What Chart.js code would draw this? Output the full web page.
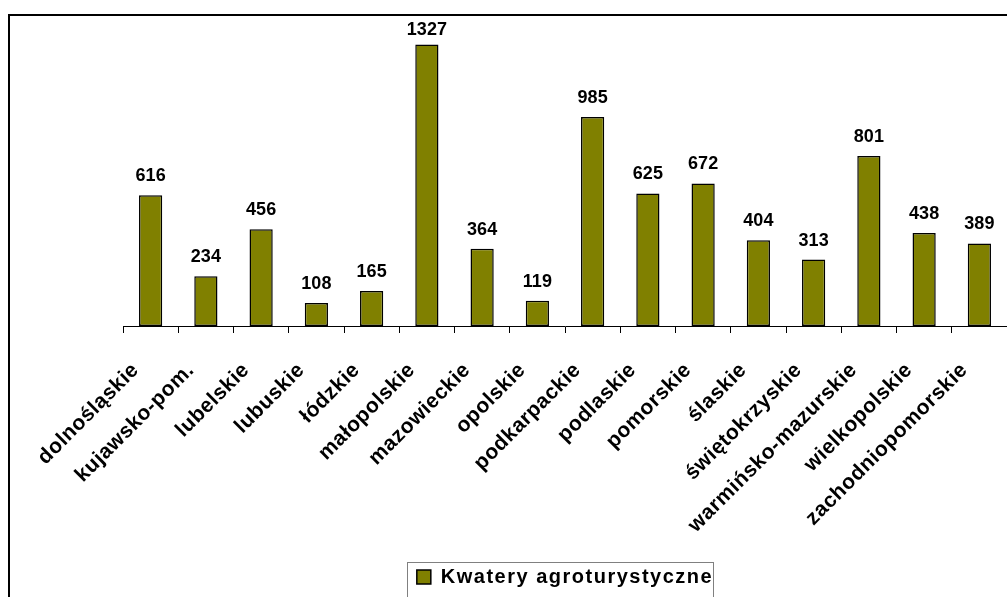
<!DOCTYPE html>
<html>
<head>
<meta charset="utf-8">
<script src="https://cdn.jsdelivr.net/npm/chart.js@4/dist/chart.umd.min.js"></script>
<style>
html,body{margin:0;padding:0;background:#fff;overflow:hidden;}
#wrap{position:relative;width:1007px;height:597px;}
</style>
</head>
<body>
<div id="wrap"><canvas id="c" width="1007" height="597"></canvas></div>
<script>
const categories = ["dolnośląskie","kujawsko-pom.","lubelskie","lubuskie","łódzkie","małopolskie","mazowieckie","opolskie","podkarpackie","podlaskie","pomorskie","ślaskie","świętokrzyskie","warmińsko-mazurskie","wielkopolskie","zachodniopomorskie"];
const values = [616,234,456,108,165,1327,364,119,985,625,672,404,313,801,438,389];
const seriesName = "Kwatery agroturystyczne";

const FONT = "'Liberation Sans', Arial, sans-serif";
const AXIS_Y = 326;
const LEGEND_SPACING = '1.5px';
const TICK_SPACING = '0.5px';

const spacingPlugin = {
  id: 'spacing',
  beforeLayout(chart) { chart.ctx.letterSpacing = LEGEND_SPACING; },
  beforeDraw(chart) { chart.ctx.letterSpacing = LEGEND_SPACING; },
  afterDatasetsDraw(chart) { chart.ctx.letterSpacing = TICK_SPACING; }
};

const framePlugin = {
  id: 'frame',
  afterDraw(chart) {
    const ctx = chart.ctx;
    ctx.save();
    ctx.letterSpacing = '0px';
    ctx.strokeStyle = '#000';
    ctx.lineWidth = 2;
    ctx.beginPath();
    ctx.moveTo(8, 15); ctx.lineTo(1007, 15);
    ctx.moveTo(9, 14); ctx.lineTo(9, 597);
    ctx.stroke();
    const lg = chart.legend;
    if (lg && lg.legendHitBoxes && lg.legendHitBoxes.length) {
      const hb = lg.legendHitBoxes[0];
      ctx.lineWidth = 1;
      ctx.strokeStyle = '#808080';
      ctx.strokeRect(Math.round(hb.left) - 9.5, 562.5, 306, 50);
    }
    ctx.restore();
  }
};

const valueLabels = {
  id: 'valueLabels',
  afterDatasetsDraw(chart) {
    const ctx = chart.ctx;
    const meta = chart.getDatasetMeta(0);
    ctx.save();
    ctx.letterSpacing = '0px';
    ctx.font = "bold 18px " + FONT;
    ctx.fillStyle = '#000';
    ctx.textAlign = 'center';
    ctx.textBaseline = 'middle';
    meta.data.forEach((bar, i) => {
      const y = Math.max(bar.y - 19, 30);
      ctx.fillText(String(chart.data.datasets[0].data[i]), bar.x, y);
    });
    ctx.restore();
  }
};

new Chart(document.getElementById('c'), {
  type: 'bar',
  data: {
    labels: categories,
    datasets: [{
      label: seriesName,
      data: values,
      backgroundColor: '#808000',
      borderColor: '#000',
      borderWidth: 1.5,
      borderSkipped: false,
      categoryPercentage: 1,
      barPercentage: 0.42
    }]
  },
  options: {
    responsive: false,
    animation: false,
    devicePixelRatio: 1,
    layout: { padding: { left: 123, right: 0, top: 29, bottom: 0 } },
    plugins: {
      tooltip: { enabled: false },
      legend: {
        position: 'bottom',
        labels: {
          color: '#000',
          font: { family: FONT, size: 20, weight: 'bold' },
          boxWidth: 14,
          boxHeight: 14,
          padding: 10
        }
      }
    },
    scales: {
      y: { display: false, min: 0, max: 1400 },
      x: {
        grid: { drawOnChartArea: false, drawTicks: true, tickLength: 7, color: '#000', offset: true },
        border: { display: true, color: '#000', width: 1 },
        ticks: {
          z: 1,
          color: '#000',
          font: { family: FONT, size: 21, weight: 'bold' },
          minRotation: 45,
          maxRotation: 45,
          autoSkip: false,
          padding: 25,
          labelOffset: -15
        },
        afterFit(scale) {
          const lg = scale.chart.legend;
          const lh = lg ? lg.height : 37;
          scale.height = 597 - lh - AXIS_Y;
          scale.paddingLeft = 0;
          scale.paddingRight = 0;
        }
      }
    }
  },
  plugins: [spacingPlugin, framePlugin, valueLabels]
});
</script>
</body>
</html>
